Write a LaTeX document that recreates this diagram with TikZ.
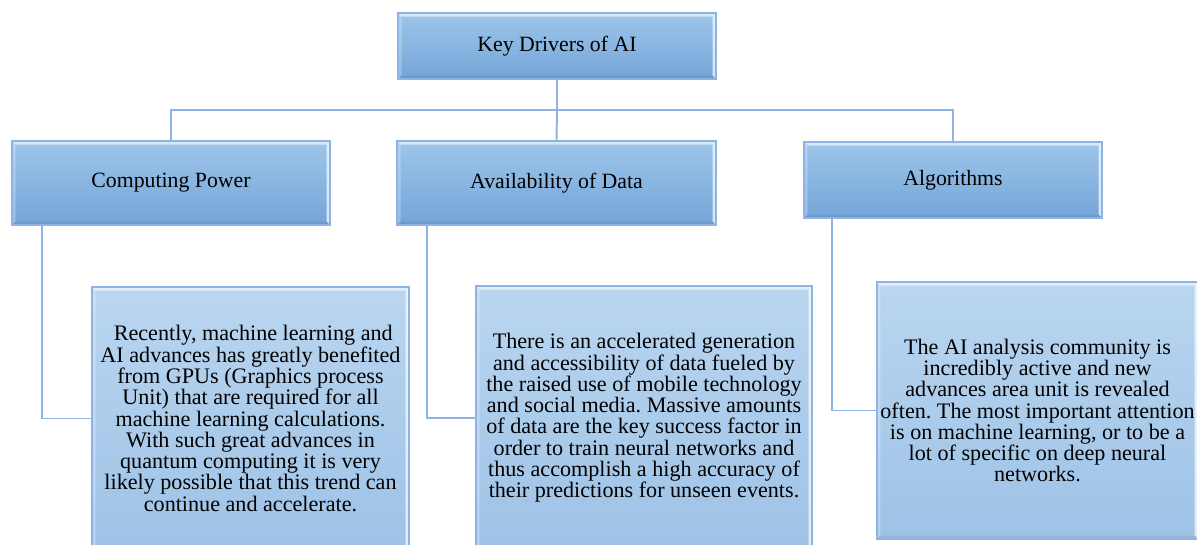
\documentclass[tikz,border=0pt]{standalone}
\usepackage{fontspec}
\setmainfont{Liberation Serif}
\usepackage{xcolor}
\definecolor{edge}{RGB}{141,180,226}
\definecolor{hitop}{RGB}{158,197,234}
\definecolor{hibot}{RGB}{116,165,216}
\definecolor{lotop}{RGB}{186,214,240}
\definecolor{lobot}{RGB}{158,194,230}
\frenchspacing

\tikzset{
  bevel/.style={path picture={
    \fill[white,opacity=.6] (path picture bounding box.north west) -- (path picture bounding box.north east)
      -- ([shift={(-0.07,-0.07)}]path picture bounding box.north east) -- ([shift={(0.07,-0.07)}]path picture bounding box.north west) -- cycle;
    \fill[white,opacity=.7] (path picture bounding box.north east) -- (path picture bounding box.south east)
      -- ([shift={(-0.07,0.07)}]path picture bounding box.south east) -- ([shift={(-0.07,-0.07)}]path picture bounding box.north east) -- cycle;
    \fill[white,opacity=.25] (path picture bounding box.north west) -- (path picture bounding box.south west)
      -- ([shift={(0.07,0.07)}]path picture bounding box.south west) -- ([shift={(0.07,-0.07)}]path picture bounding box.north west) -- cycle;
    \fill[black,opacity=.07] (path picture bounding box.south west) -- (path picture bounding box.south east)
      -- ([shift={(-0.07,0.07)}]path picture bounding box.south east) -- ([shift={(0.07,0.07)}]path picture bounding box.south west) -- cycle;
  }}
}

\begin{document}
\begin{tikzpicture}[
  box/.style={rectangle,draw=edge,line width=1pt,inner sep=2pt,align=center,bevel},
  head/.style={box,top color=hitop,bottom color=hibot,font=\fontsize{12.4}{14}\selectfont},
  detail/.style={box,top color=lotop,bottom color=lobot,font=\fontsize{12.6}{12.1}\selectfont},
  link/.style={draw=edge,line width=1.1pt}
]
\useasboundingbox (0,0) rectangle (23.94,-10.88);

\node[head,minimum width=6.36cm,minimum height=1.32cm] (top) at (11.14,-0.92) {Key Drivers of AI};

\node[head,minimum width=6.36cm,minimum height=1.68cm] (cp) at (3.42,-3.66) {Computing Power};
\node[head,minimum width=6.38cm,minimum height=1.68cm] (data) at (11.13,-3.66) {Availability of Data};
\node[head,minimum width=5.96cm,minimum height=1.52cm] (alg) at (19.06,-3.60) {Algorithms};

\node[detail,minimum width=6.34cm,minimum height=5.26cm] (cpd) at (5.01,-8.37)
  {\ Recently, machine learning and\\AI advances has greatly benefited\\from GPUs (Graphics process\\Unit) that are required for all\\machine learning calculations.\\With such great advances in\\quantum computing it is very\\likely possible that this trend can\\continue and accelerate.};
\node[detail,minimum width=6.72cm,minimum height=5.28cm] (datad) at (12.88,-8.36)
  {There is an accelerated generation\\and accessibility of data fueled by\\the raised use of mobile technology\\and social media. Massive amounts\\of data are the key success factor in\\order to train neural networks and\\thus accomplish a high accuracy of\\their predictions for unseen events.};
\node[detail,minimum width=6.34cm,minimum height=5.14cm] (algd) at (20.75,-8.21)
  {The AI analysis community is\\incredibly active and new\\advances area unit is revealed\\often. The most important attention\\is on machine learning, or to be a\\lot of specific on deep neural\\networks.};

\coordinate (bus) at (11.14,-2.2);

\draw[link] (top.south) -- (bus);
\draw[link] (cp.north) |- (bus);
\draw[link] (alg.north) |- (bus);
\draw[link] (data.north) -- (bus);

\draw[link] ([xshift=0.62cm]cp.south west) |- (cpd.west);
\draw[link] ([xshift=0.62cm]data.south west) |- (datad.west);
\draw[link] ([xshift=0.58cm]alg.south west) |- (algd.west);

\end{tikzpicture}
\end{document}
